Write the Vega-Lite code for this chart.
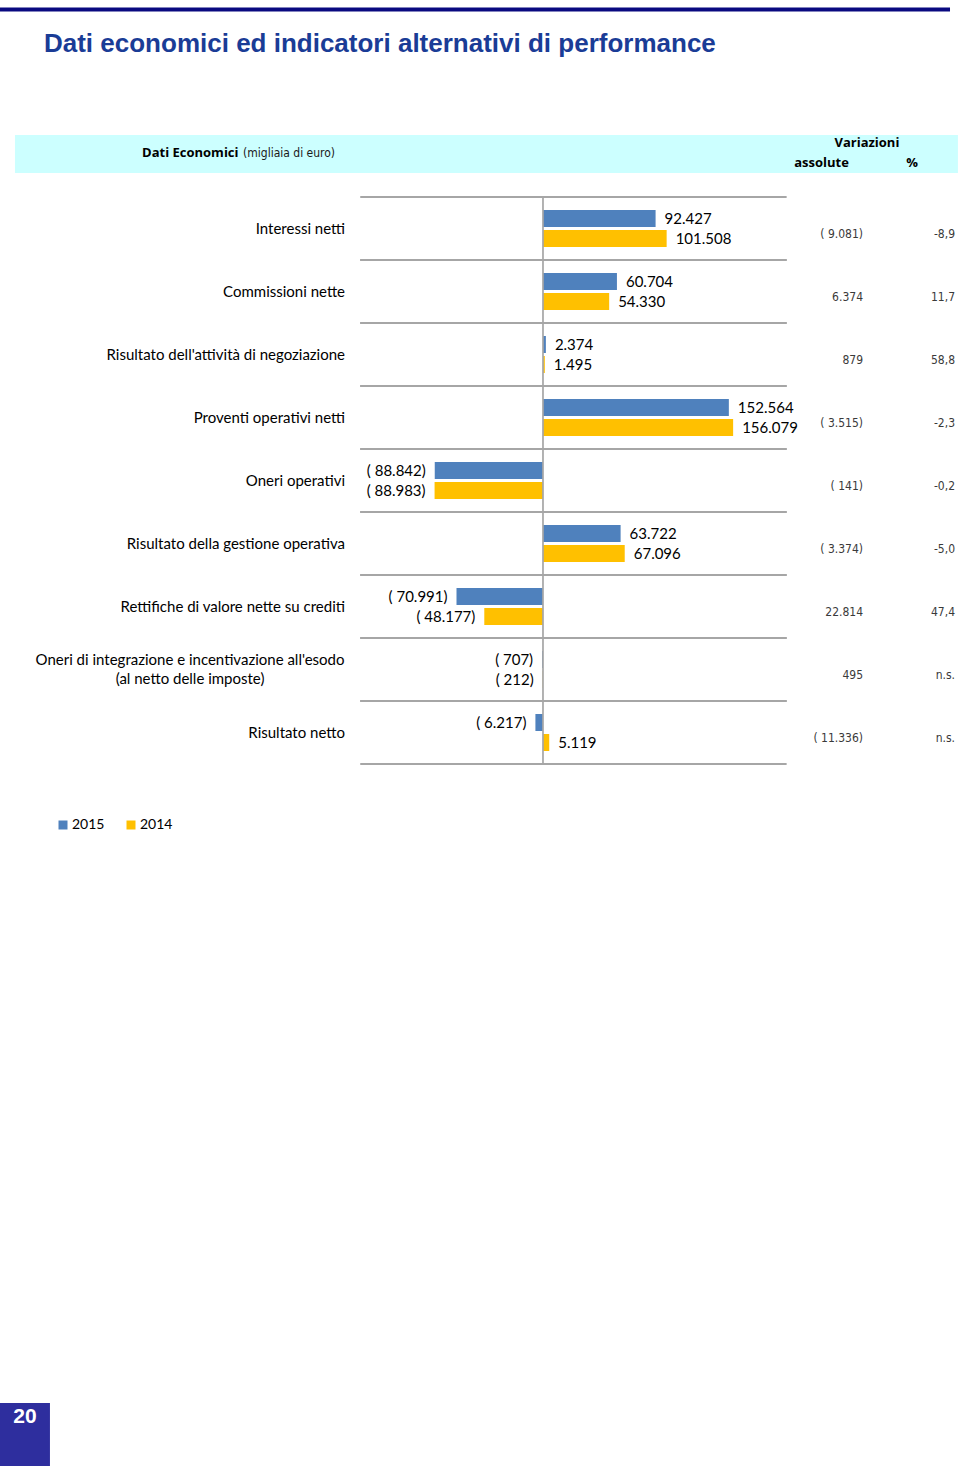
{
  "$schema": "https://vega.github.io/schema/vega-lite/v6.json",
  "width": 960,
  "height": 1466,
  "autosize": {"type": "none"},
  "padding": 0,
  "background": "white",
  "config": {"view": {"stroke": null}, "font": "Lato"},
  "datasets": {
    "bars": [
      {"cat": "Interessi netti", "year": "2015", "value": 92427, "label": "92.427"},
      {"cat": "Interessi netti", "year": "2014", "value": 101508, "label": "101.508"},
      {"cat": "Commissioni nette", "year": "2015", "value": 60704, "label": "60.704"},
      {"cat": "Commissioni nette", "year": "2014", "value": 54330, "label": "54.330"},
      {"cat": "Risultato dell'attività di negoziazione", "year": "2015", "value": 2374, "label": "2.374"},
      {"cat": "Risultato dell'attività di negoziazione", "year": "2014", "value": 1495, "label": "1.495"},
      {"cat": "Proventi operativi netti", "year": "2015", "value": 152564, "label": "152.564"},
      {"cat": "Proventi operativi netti", "year": "2014", "value": 156079, "label": "156.079"},
      {"cat": "Oneri operativi", "year": "2015", "value": -88842, "label": "( 88.842)"},
      {"cat": "Oneri operativi", "year": "2014", "value": -88983, "label": "( 88.983)"},
      {"cat": "Risultato della gestione operativa", "year": "2015", "value": 63722, "label": "63.722"},
      {"cat": "Risultato della gestione operativa", "year": "2014", "value": 67096, "label": "67.096"},
      {"cat": "Rettifiche di valore nette su crediti", "year": "2015", "value": -70991, "label": "( 70.991)"},
      {"cat": "Rettifiche di valore nette su crediti", "year": "2014", "value": -48177, "label": "( 48.177)"},
      {"cat": "Oneri di integrazione e incentivazione all'esodo\n(al netto delle imposte)", "year": "2015", "value": -707, "label": "( 707)"},
      {"cat": "Oneri di integrazione e incentivazione all'esodo\n(al netto delle imposte)", "year": "2014", "value": -212, "label": "( 212)"},
      {"cat": "Risultato netto", "year": "2015", "value": -6217, "label": "( 6.217)"},
      {"cat": "Risultato netto", "year": "2014", "value": 5119, "label": "5.119"}
    ],
    "rows": [
      {"cat": "Interessi netti", "abs": "( 9.081)", "pct": "-8,9"},
      {"cat": "Commissioni nette", "abs": "6.374", "pct": "11,7"},
      {"cat": "Risultato dell'attività di negoziazione", "abs": "879", "pct": "58,8"},
      {"cat": "Proventi operativi netti", "abs": "( 3.515)", "pct": "-2,3"},
      {"cat": "Oneri operativi", "abs": "( 141)", "pct": "-0,2"},
      {"cat": "Risultato della gestione operativa", "abs": "( 3.374)", "pct": "-5,0"},
      {"cat": "Rettifiche di valore nette su crediti", "abs": "22.814", "pct": "47,4"},
      {"cat": "Oneri di integrazione e incentivazione all'esodo\n(al netto delle imposte)", "abs": "495", "pct": "n.s."},
      {"cat": "Risultato netto", "abs": "( 11.336)", "pct": "n.s."}
    ]
  },
  "layer": [
    {
      "layer": [
        {
          "data": {"name": "rows"},
          "mark": {"type": "rule", "color": "#a6a6a6", "strokeWidth": 2},
          "encoding": {
            "y": {"field": "cat", "type": "nominal", "bandPosition": 0, "axis": null,
                  "scale": {"domain": ["Interessi netti", "Commissioni nette", "Risultato dell'attività di negoziazione", "Proventi operativi netti", "Oneri operativi", "Risultato della gestione operativa", "Rettifiche di valore nette su crediti", "Oneri di integrazione e incentivazione all'esodo\n(al netto delle imposte)", "Risultato netto"], "range": [197, 764], "paddingInner": 0, "paddingOuter": 0}},
            "x": {"datum": -150000, "type": "quantitative", "axis": null, "scale": {"domain": [-445700, 342300], "nice": false}},
            "x2": {"datum": 200000}
          }
        },
        {
          "data": {"name": "rows"},
          "mark": {"type": "rule", "color": "#a6a6a6", "strokeWidth": 2},
          "encoding": {
            "y": {"field": "cat", "type": "nominal", "bandPosition": 1},
            "x": {"datum": -150000, "type": "quantitative"},
            "x2": {"datum": 200000}
          }
        },
        {
          "data": {"name": "bars"},
          "mark": {"type": "bar"},
          "encoding": {
            "y": {"field": "cat", "type": "nominal"},
            "yOffset": {"field": "year", "type": "nominal", "sort": ["2015", "2014"], "scale": {"paddingInner": 0.15, "paddingOuter": 0.65}},
            "x": {"field": "value", "type": "quantitative"},
            "color": {"field": "year", "type": "nominal", "sort": ["2015", "2014"],
                      "scale": {"domain": ["2015", "2014"], "range": ["#4f81bd", "#ffc000"]},
                      "legend": {"orient": "none", "legendX": 56, "legendY": 818, "direction": "horizontal", "symbolType": "square", "title": null, "labelFontSize": 14, "labelFont": "Lato", "labelColor": "#000000", "symbolSize": 81, "symbolStrokeWidth": 0, "columnPadding": 19, "labelOffset": 2}}
          }
        },
        {
          "data": {"name": "rows"},
          "mark": {"type": "rect", "color": "#a6a6a6"},
          "encoding": {
            "y": {"field": "cat", "type": "nominal"},
            "x": {"datum": -700, "type": "quantitative"},
            "x2": {"datum": 700}
          }
        },
        {
          "data": {"name": "bars"},
          "transform": [{"filter": "datum.value >= 0"}],
          "mark": {"type": "text", "align": "left", "baseline": "middle", "dx": 9, "fontSize": 15, "font": "Lato", "color": "#000000"},
          "encoding": {
            "y": {"field": "cat", "type": "nominal"},
            "yOffset": {"field": "year", "type": "nominal", "sort": ["2015", "2014"]},
            "x": {"field": "value", "type": "quantitative"},
            "text": {"field": "label"}
          }
        },
        {
          "data": {"name": "bars"},
          "transform": [{"filter": "datum.value < 0"}],
          "mark": {"type": "text", "align": "right", "baseline": "middle", "dx": -9, "fontSize": 15, "font": "Lato", "color": "#000000"},
          "encoding": {
            "y": {"field": "cat", "type": "nominal"},
            "yOffset": {"field": "year", "type": "nominal", "sort": ["2015", "2014"]},
            "x": {"field": "value", "type": "quantitative"},
            "text": {"field": "label"}
          }
        },
        {
          "data": {"name": "rows"},
          "transform": [{"filter": "indexof(datum.cat, '\\n') < 0"}],
          "mark": {"type": "text", "align": "right", "baseline": "middle", "fontSize": 15, "font": "Lato", "color": "#000000"},
          "encoding": {
            "y": {"field": "cat", "type": "nominal"},
            "x": {"datum": -162500, "type": "quantitative"},
            "text": {"field": "cat"}
          }
        },
        {
          "data": {"name": "rows"},
          "transform": [{"filter": "indexof(datum.cat, '\\n') >= 0"}],
          "mark": {"type": "text", "align": "center", "baseline": "middle", "dy": -9.5, "fontSize": 15, "font": "Lato", "color": "#000000", "lineBreak": "\n", "lineHeight": 19},
          "encoding": {
            "y": {"field": "cat", "type": "nominal"},
            "x": {"datum": -289700, "type": "quantitative"},
            "text": {"field": "cat"}
          }
        },
        {
          "data": {"name": "rows"},
          "mark": {"type": "text", "align": "right", "baseline": "middle", "dy": 5.5, "fontSize": 12, "font": "DejaVu Sans Condensed", "color": "#3a3a3a"},
          "encoding": {
            "y": {"field": "cat", "type": "nominal"},
            "x": {"datum": 262700, "type": "quantitative"},
            "text": {"field": "abs"}
          }
        },
        {
          "data": {"name": "rows"},
          "mark": {"type": "text", "align": "right", "baseline": "middle", "dy": 5.5, "fontSize": 12, "font": "DejaVu Sans Condensed", "color": "#3a3a3a"},
          "encoding": {
            "y": {"field": "cat", "type": "nominal"},
            "x": {"datum": 338200, "type": "quantitative"},
            "text": {"field": "pct"}
          }
        }
      ]
    },
    {
      "layer": [
        {
          "data": {"values": [{"part": "top rule"}]},
          "mark": {"type": "rule", "color": "#0a0a80", "strokeWidth": 4},
          "encoding": {
            "x": {"datum": -445700, "type": "quantitative"},
            "x2": {"datum": 334100},
            "y": {"datum": 9.5, "type": "quantitative", "axis": null, "scale": {"domain": [0, 1466], "range": [0, 1466], "nice": false, "zero": false}}
          }
        },
        {
          "data": {"values": [{"t": "Dati economici ed indicatori alternativi di performance"}]},
          "mark": {"type": "text", "align": "left", "baseline": "alphabetic", "fontSize": 26, "fontWeight": "bold", "font": "Liberation Sans", "color": "#1a3c96"},
          "encoding": {
            "x": {"datum": -409600, "type": "quantitative"},
            "y": {"datum": 52, "type": "quantitative"},
            "text": {"field": "t"}
          }
        },
        {
          "data": {"values": [{"part": "header band"}]},
          "mark": {"type": "rect", "color": "#ccffff"},
          "encoding": {
            "x": {"datum": -433400, "type": "quantitative"},
            "x2": {"datum": 340600},
            "y": {"datum": 135, "type": "quantitative"},
            "y2": {"datum": 173}
          }
        },
        {
          "data": {"values": [{"t": "Dati Economici"}]},
          "mark": {"type": "text", "align": "left", "baseline": "middle", "fontSize": 13, "fontWeight": "bold", "font": "Open Sans", "color": "#000000"},
          "encoding": {
            "x": {"datum": -329100, "type": "quantitative"},
            "y": {"datum": 152.5, "type": "quantitative"},
            "text": {"field": "t"}
          }
        },
        {
          "data": {"values": [{"t": "(migliaia di euro)"}]},
          "mark": {"type": "text", "align": "left", "baseline": "middle", "fontSize": 12, "font": "DejaVu Sans Condensed", "color": "#1a1a1a"},
          "encoding": {
            "x": {"datum": -246200, "type": "quantitative"},
            "y": {"datum": 152.5, "type": "quantitative"},
            "text": {"field": "t"}
          }
        },
        {
          "data": {"values": [{"t": "Variazioni"}]},
          "mark": {"type": "text", "align": "center", "baseline": "middle", "fontSize": 13, "fontWeight": "bold", "font": "Open Sans", "color": "#000000"},
          "encoding": {
            "x": {"datum": 265900, "type": "quantitative"},
            "y": {"datum": 142.5, "type": "quantitative"},
            "text": {"field": "t"}
          }
        },
        {
          "data": {"values": [{"t": "assolute"}]},
          "mark": {"type": "text", "align": "center", "baseline": "middle", "fontSize": 13, "fontWeight": "bold", "font": "Open Sans", "color": "#000000"},
          "encoding": {
            "x": {"datum": 228600, "type": "quantitative"},
            "y": {"datum": 162.5, "type": "quantitative"},
            "text": {"field": "t"}
          }
        },
        {
          "data": {"values": [{"t": "%"}]},
          "mark": {"type": "text", "align": "center", "baseline": "middle", "fontSize": 13, "fontWeight": "bold", "font": "Open Sans", "color": "#000000"},
          "encoding": {
            "x": {"datum": 302900, "type": "quantitative"},
            "y": {"datum": 162.5, "type": "quantitative"},
            "text": {"field": "t"}
          }
        },
        {
          "data": {"values": [{"part": "page box"}]},
          "mark": {"type": "rect", "color": "#2e2e9e"},
          "encoding": {
            "x": {"datum": -445700, "type": "quantitative"},
            "x2": {"datum": -404700},
            "y": {"datum": 1403, "type": "quantitative"},
            "y2": {"datum": 1466}
          }
        },
        {
          "data": {"values": [{"t": "20"}]},
          "mark": {"type": "text", "align": "center", "baseline": "middle", "fontSize": 21, "fontWeight": "bold", "font": "Liberation Sans", "color": "#ffffff"},
          "encoding": {
            "x": {"datum": -425200, "type": "quantitative"},
            "y": {"datum": 1417, "type": "quantitative"},
            "text": {"field": "t"}
          }
        }
      ]
    }
  ],
  "resolve": {"scale": {"y": "independent"}}
}
